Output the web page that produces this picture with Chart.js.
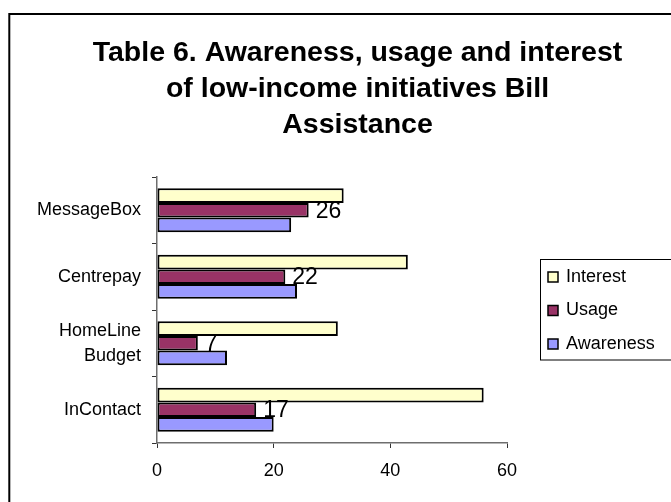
<!DOCTYPE html>
<html>
<head>
<meta charset="utf-8">
<script src="https://cdn.jsdelivr.net/npm/chart.js@4/dist/chart.umd.min.js"></script>
<style>
html,body{margin:0;padding:0;background:#fff;}
#wrap{width:671px;height:502px;position:relative;}
</style>
</head>
<body>
<div id="wrap"><canvas id="c"></canvas></div>
<script>
const titleLines = ['Table 6. Awareness, usage and interest', 'of low-income initiatives Bill', 'Assistance'];
const categories = ['MessageBox', 'Centrepay', ['HomeLine', 'Budget'], 'InContact'];
const seriesNames = ['Interest', 'Usage', 'Awareness'];
const interest = [32, 43, 31, 56];
const usage = [26, 22, 7, 17];
const awareness = [23, 24, 12, 20];
const xTicks = [0, 20, 40, 60];
const labelledSeries = 'Usage';

const FONT = 'Arial, "Liberation Sans", sans-serif';

const framePlugin = {
  id: 'frame',
  beforeDraw(chart) {
    const ctx = chart.ctx;
    ctx.save();
    ctx.fillStyle = '#fff';
    ctx.fillRect(0, 0, chart.width, chart.height);
    ctx.restore();
  },
  afterDraw(chart) {
    const ctx = chart.ctx;
    ctx.save();
    // outer frame
    ctx.strokeStyle = '#000';
    ctx.lineWidth = 2;
    ctx.beginPath();
    ctx.moveTo(9.3, chart.height + 5);
    ctx.lineTo(9.3, 14);
    ctx.lineTo(chart.width + 5, 14);
    ctx.stroke();
    // title
    ctx.fillStyle = '#000';
    ctx.font = 'bold 28.5px ' + FONT;
    ctx.textAlign = 'center';
    ctx.textBaseline = 'alphabetic';
    titleLines.forEach((t, i) => ctx.fillText(t, 357.5, 61 + i * 36));
    // legend
    ctx.lineWidth = 1;
    ctx.strokeStyle = '#000';
    ctx.strokeRect(540.5, 259.5, 200, 100.5);
    chart.data.datasets.forEach((ds, i) => {
      const cy = 277 + i * 33.5;
      ctx.fillStyle = ds.backgroundColor;
      ctx.fillRect(548, cy - 5, 10, 10);
      ctx.strokeStyle = '#000';
      ctx.lineWidth = 1.5;
      ctx.strokeRect(548, cy - 5, 10, 10);
      ctx.fillStyle = '#000';
      ctx.font = '18px ' + FONT;
      ctx.textAlign = 'left';
      ctx.textBaseline = 'middle';
      ctx.fillText(ds.label, 566, cy);
    });
    ctx.restore();
  },
  afterDatasetsDraw(chart) {
    const ctx = chart.ctx;
    chart.data.datasets.forEach((ds, di) => {
      if (ds.label !== labelledSeries) return;
      const meta = chart.getDatasetMeta(di);
      ctx.save();
      ctx.fillStyle = '#000';
      ctx.font = '23px ' + FONT;
      ctx.textAlign = 'left';
      ctx.textBaseline = 'middle';
      meta.data.forEach((el, j) => {
        ctx.fillText(String(ds.data[j]), el.x + 7, el.y + 1);
      });
      ctx.restore();
    });
  }
};

const common = {borderColor: '#000', borderWidth: 2, borderSkipped: false, categoryPercentage: 0.66, barPercentage: 1.0};

new Chart(document.getElementById('c'), {
  type: 'bar',
  data: {
    labels: categories,
    datasets: [
      Object.assign({label: seriesNames[0], data: interest, backgroundColor: '#FFFFCC'}, common),
      Object.assign({label: seriesNames[1], data: usage, backgroundColor: '#993366'}, common),
      Object.assign({label: seriesNames[2], data: awareness, backgroundColor: '#9999FF'}, common)
    ]
  },
  options: {
    indexAxis: 'y',
    responsive: true,
    maintainAspectRatio: false,
    animation: false,
    devicePixelRatio: 1,
    layout: {padding: {left: 10, top: 177, right: 164, bottom: 19}},
    plugins: {legend: {display: false}, title: {display: false}, tooltip: {enabled: false}},
    scales: {
      x: {
        min: 0, max: 60,
        afterBuildTicks(axis) { axis.ticks = xTicks.map(v => ({value: v})); },
        afterFit(axis) { axis.height = 40; },
        grid: {display: true, drawOnChartArea: false, tickLength: 5, color: '#333'},
        border: {display: true, color: '#6e6e6e', width: 1.5},
        ticks: {color: '#000', font: {family: FONT, size: 18}, padding: 12, maxRotation: 0}
      },
      y: {
        afterFit(axis) { axis.width = 147; },
        grid: {display: true, drawOnChartArea: false, tickLength: 5, color: '#333', offset: true},
        border: {display: true, color: '#6e6e6e', width: 1.5},
        ticks: {color: '#000', font: {family: FONT, size: 18, lineHeight: 1.4}, padding: 11}
      }
    }
  },
  plugins: [framePlugin]
});
</script>
</body>
</html>
